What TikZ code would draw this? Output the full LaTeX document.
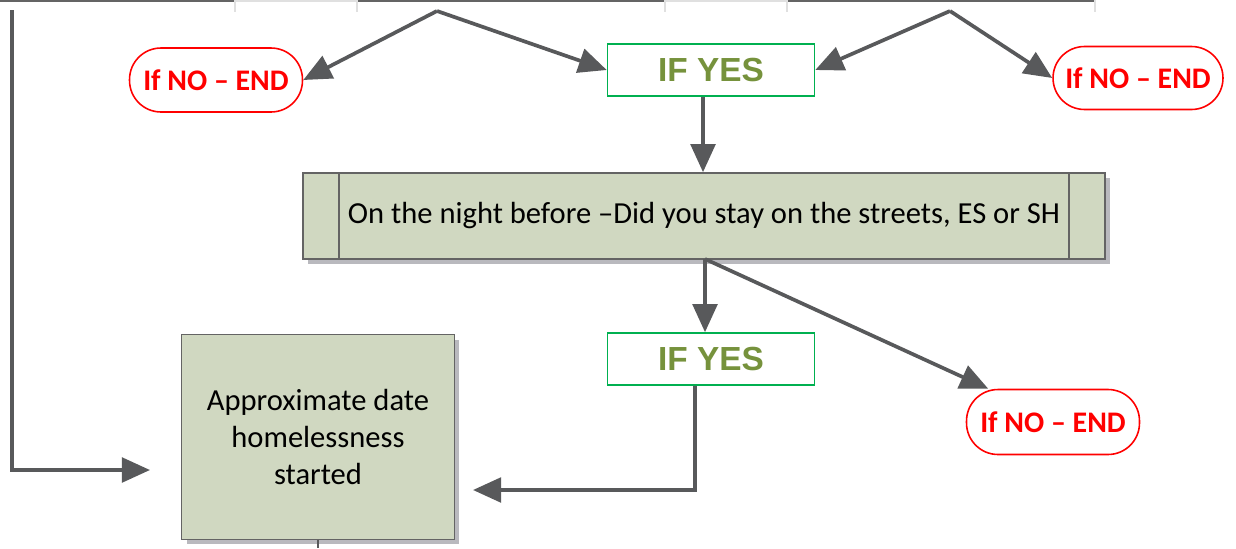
\documentclass[tikz,border=0pt]{standalone}
\usepackage{fontspec}
\setmainfont{Carlito}
\newfontfamily\arialfont{Liberation Sans}
\usetikzlibrary{arrows.meta,shadows}
\definecolor{arrowgray}{RGB}{88,89,91}
\definecolor{boxfill}{RGB}{208,216,193}
\definecolor{boxline}{RGB}{100,100,100}
\definecolor{yesgreen}{RGB}{0,176,80}
\definecolor{yestext}{RGB}{118,146,60}
\definecolor{shadowgray}{RGB}{185,185,190}
\tikzset{
  flow/.style={draw=arrowgray, line width=2.1pt, -{Triangle[length=16pt,width=14pt]}},
  plain/.style={draw=arrowgray, line width=1.2pt},
  endbox/.style={draw=red, line width=0.9pt, fill=white, rounded corners=0.63cm,
    minimum width=3.46cm, minimum height=1.28cm, text=red, font=\fontsize{17}{20}\selectfont\bfseries},
  yesbox/.style={draw=yesgreen, line width=0.9pt, fill=white, minimum width=4.14cm,
    minimum height=1.04cm, text=yestext, font=\arialfont\fontsize{19}{22}\selectfont\bfseries},
  procbox/.style={draw=boxline, line width=0.9pt, fill=boxfill,
    drop shadow={shadow xshift=0.1cm, shadow yshift=-0.1cm, fill=shadowgray, opacity=1}},
}
\begin{document}
\begin{tikzpicture}[x=0.02cm,y=-0.02cm]
\useasboundingbox (0,0) rectangle (1236,548);
% cut-off boxes at top
\draw[boxline, line width=1pt] (0,1) -- (235,1);
\draw[boxline, line width=1pt] (357,1) -- (665,1);
\draw[boxline, line width=1pt] (787,1) -- (1095,1);
\draw[black!12, line width=0.6pt] (235,1) -- (357,1);
\draw[black!12, line width=0.6pt] (665,1) -- (787,1);
\draw[black!12, line width=0.6pt] (235,0) -- (235,12) (357,0) -- (357,12) (665,0) -- (665,12) (787,0) -- (787,12) (1095,0) -- (1095,12);
\coordinate (apexL) at (437,11);
\coordinate (apexR) at (950,11);
% nodes
\node[endbox] (endL) at (216,80) {If NO – END};
\node[endbox, minimum width=3.4cm, minimum height=1.26cm] (endR) at (1138,78) {If NO – END};
\node[yesbox] (yes1) at (711,70) {IF YES};
\node[procbox, minimum width=16.04cm, minimum height=1.72cm] (proc) at (704,216)
  {\fontsize{17.4}{20}\selectfont On the night before –Did you stay on the streets, ES or SH};
\draw[boxline, line width=0.9pt] ([xshift=0.74cm]proc.north west) -- ([xshift=0.74cm]proc.south west);
\draw[boxline, line width=0.9pt] ([xshift=-0.74cm]proc.north east) -- ([xshift=-0.74cm]proc.south east);
\node[yesbox] (yes2) at (711,359) {IF YES};
\node[endbox, minimum height=1.3cm] (endB) at (1053,422) {If NO – END};
\node[procbox, minimum width=5.46cm, minimum height=4.1cm, align=center,
  font=\fontsize{17.4}{21}\selectfont] (date) at (318,437) {Approximate date\\homelessness\\started};
% connectors
\draw[flow] (apexL) -- (endL.east);
\draw[flow] (apexL) -- (yes1.west);
\draw[flow] (apexR) -- (yes1.east);
\draw[flow] (apexR) -- (endR.west);
\draw[flow] ([xshift=-0.16cm]yes1.south) -- ([xshift=-0.16cm]proc.north -| yes1.south);
\coordinate (pb) at (705,259);
\draw[flow] (pb) -- (yes2.north -| pb);
\draw[flow] (pb) -- ([xshift=0.45cm]endB.north west);
\coordinate (leftTop) at (12,10);
\coordinate (leftBot) at (12,470);
\coordinate (leftTip) at (150,470);
\draw[flow] (leftTop) -- (leftBot) -- (leftTip);
\coordinate (yesTurn) at (695,490);
\coordinate (dateTip) at (473,490);
\draw[flow] ([xshift=-0.32cm]yes2.south) -- (yesTurn) -- (dateTip);
\coordinate (dateOut) at (318,548);
\draw[plain] (date.south) -- (dateOut);
\end{tikzpicture}
\end{document}
